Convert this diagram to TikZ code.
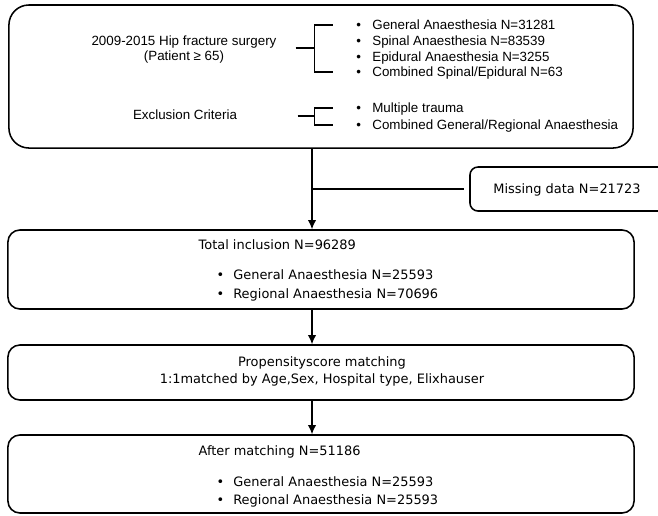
\documentclass[tikz,border=0pt]{standalone}
\usepackage{fontspec}
\setmainfont{Liberation Sans}
\newfontfamily\verdfont{DejaVu Sans}
\usetikzlibrary{calc, arrows.meta, positioning}

\newcommand{\bul}{\textbullet\hskip0.85em\relax}
\newcommand{\vbul}{\textbullet\hskip0.7em\relax}

\begin{document}
\begin{tikzpicture}[x=0.025cm, y=-0.025cm, >={Latex[length=2.3mm, width=2.1mm]}, line width=0.9pt]
		\tikzstyle{frame} = [draw=black, line width=1.1pt, rounded corners=0.3cm, inner sep=0pt, minimum width=15.65cm]
		\tikzstyle{txt} = [inner sep=0pt, font=\fontsize{9.5pt}{10.7pt}\selectfont, text height=1.6ex, text depth=0.4ex]
		\tikzstyle{item} = [txt, anchor=west]
		\tikzstyle{vtxt} = [inner sep=0pt, anchor=west, font=\verdfont\fontsize{9.2pt}{12pt}\selectfont, text height=1.6ex, text depth=0.4ex]

		\useasboundingbox (0,0) rectangle (658,515);
		\clip (0,0) rectangle (658,515);

		% boxes
		\node[frame, rounded corners=0.5cm, minimum width=15.6cm, minimum height=3.575cm] at (321, 76.5) (cohort) {};
		\node[frame, rounded corners=0.2cm, minimum width=5.5cm, minimum height=1.1cm] at (580, 189) (miss) {};
		\node[frame, minimum height=1.975cm] at (321, 269.5) (incl) {};
		\node[frame, minimum height=1.375cm] at (321, 372.5) (psm) {};
		\node[frame, minimum height=1.95cm] at (321, 474) (after) {};

		% cohort box
		\node[txt, align=center, text height=, text depth=] at (184, 49.5) (hip) {2009-2015 Hip fracture surgery\\(Patient ≥ 65)};
		\node[txt] at (185, 115) (excl) {Exclusion Criteria};
		\node[item] at (355.7, 25) (ga) {\bul General Anaesthesia N=31281};
		\node[item] at (355.7, 41) (sa) {\bul Spinal Anaesthesia N=83539};
		\node[item] at (355.7, 57) (ea) {\bul Epidural Anaesthesia N=3255};
		\node[item] at (355.7, 72) (ce) {\bul Combined Spinal/Epidural N=63};
		\node[item] at (355.7, 108) (mt) {\bul Multiple trauma};
		\node[item] at (355.7, 125) (cg) {\bul Combined General/Regional Anaesthesia};

		\draw ($(ga.west)+(-23,0)$) -| ($(ce.west)+(-41,0)$) -- ($(ce.west)+(-23,0)$);
		\draw ($(ga.west)+(-60,23)$) -- ($(ga.west)+(-41,23)$);
		\draw ($(mt.west)+(-23,0)$) -| ($(cg.west)+(-41,0)$) -- ($(cg.west)+(-23,0)$);
		\draw ($(mt.west)+(-58,8)$) -- ($(mt.west)+(-41,8)$);

		% missing data
		\node[vtxt, anchor=center] at (567, 189) (misst) {Missing data N=21723};

		% inclusion box
		\node[vtxt] at (198, 245) (tot) {Total inclusion N=96289};
		\node[vtxt] at (216, 275) (iga) {\vbul General Anaesthesia N=25593};
		\node[vtxt] at (216, 294) (ira) {\vbul Regional Anaesthesia N=70696};

		% matching box
		\node[vtxt, anchor=center, align=center, text height=, text depth=] at (322, 371.5) (psmt) {Propensityscore matching\\1:1matched by Age,Sex, Hospital type, Elixhauser};

		% after box
		\node[vtxt] at (198, 451) (aft) {After matching N=51186};
		\node[vtxt] at (216, 482) (aga) {\vbul General Anaesthesia N=25593};
		\node[vtxt] at (216, 500) (ara) {\vbul Regional Anaesthesia N=25593};

		% flow
		\coordinate (spine) at (312, 0);
		\draw[->] (cohort.south -| spine) -- (incl.north -| spine);
		\draw (spine |- miss.west) -- ([xshift=-4pt]miss.west);
		\draw[->] (incl.south -| spine) -- (psm.north -| spine);
		\draw[->] (psm.south -| spine) -- (after.north -| spine);
\end{tikzpicture}
\end{document}
